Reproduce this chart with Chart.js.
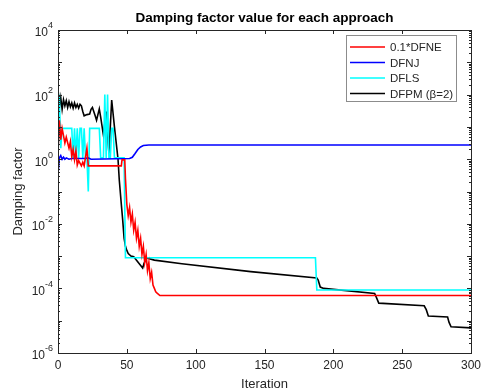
<!DOCTYPE html>
<html>
<head>
<meta charset="utf-8">
<script src="https://cdn.jsdelivr.net/npm/chart.js@4.4.0/dist/chart.umd.min.js"></script>
<style>
  body { margin: 0; background: #fff; }
  #wrap { width: 487px; height: 391px; }
</style>
</head>
<body>
<div id="wrap"><canvas id="damping_chart" width="487" height="391"></canvas></div>
<script>
// breakpoints (iteration, damping factor) of each trace
const dfneIter = [0, 1, 2, 3, 5, 6, 8, 9, 10, 11, 12, 13, 14, 15, 17, 18, 19, 21, 22, 46, 46.5, 48.5, 49,
    50, 51, 52, 53, 54, 55, 56, 57, 58, 59, 60, 61, 62, 63, 64, 65, 66, 67, 68, 69, 70, 71, 72, 74, 300];
const dfneVal = [1.5, 16, 4, 9, 3.2, 4.8, 2.2, 3.5, 1.2, 2, 0.96, 1.8, 0.66, 0.9, 0.62, 0.8, 0.62, 2.2, 0.62, 0.62, 0.95, 0.95, 0.25,
    0.04, 0.0178, 0.0316, 0.0112, 0.02, 0.0063, 0.0112, 0.00355, 0.0063, 0.002, 0.00355, 0.00112, 0.002, 0.00063,
    0.00112, 0.000355, 0.00063, 0.0002, 0.000316, 0.000126, 0.0001, 0.000079, 0.000071, 0.00006, 0.00006];

const dfnjIter = [0, 1, 2, 3, 4, 5, 6, 8, 10, 20, 22, 24, 52, 54, 56, 58, 60, 62, 66, 300];
const dfnjVal = [0.35, 1.1, 1.3, 1.0, 1.15, 1.0, 1.1, 1.0, 1.05, 1.05, 1.1, 1.0, 1.05, 1.15, 1.5, 2.0, 2.4, 2.65, 2.75, 2.75];

const dflsIter = [0, 1, 2, 3, 10, 11, 12, 13, 14, 15, 16, 17, 18, 19, 20, 21, 22, 23, 30, 31, 33, 34, 35, 36, 37, 38, 39, 40, 41, 48, 49, 187, 188, 300];
const dflsVal = [60, 80, 2.2, 9, 9, 1.1, 9, 1.1, 9, 1.1, 9, 9, 1.1, 9, 1.1, 1.1, 0.1, 9, 9, 1.1, 1.1, 100, 1.1, 100, 1.1, 1.1, 9, 9, 1.1, 1.1,
    0.00089, 0.00089, 0.000089, 0.000089];

const dfpmIter = [0, 1, 2, 3, 4, 5, 6, 7, 8, 9, 10, 11, 12, 13, 14, 15, 16, 17, 18, 19, 21, 23, 24, 25, 27, 28, 30, 31, 33, 35, 36, 37, 39, 41,
    43.6, 44.5, 46, 47, 48, 49, 50, 51, 53, 55, 61.5, 62.5, 64.4, 70, 90, 140, 188, 189, 190.5, 193, 230, 231.5, 233, 266, 267.5, 269,
    283, 284, 285.5, 300];
const dfpmVal = [150, 40, 80, 35, 70, 45, 65, 40, 60, 42, 55, 38, 55, 40, 50, 38, 50, 45, 30, 22, 24, 25, 35, 40, 22, 16, 36, 20, 5.5, 30, 6, 1.5, 68, 10,
    1, 0.23, 0.04, 0.013, 0.0036, 0.002, 0.0015, 0.0012, 0.001, 0.00095, 0.00043, 0.0006, 0.00087, 0.00075, 0.00058, 0.00033, 0.00021, 0.00018,
    0.00011, 0.0001, 0.00007, 0.00005, 0.000035, 0.000029, 0.000022, 0.000014, 0.000013, 0.000009, 0.0000065, 0.000006];

const seriesNames = ['0.1*DFNE', 'DFNJ', 'DFLS', 'DFPM (\u03b2=2)'];
const seriesColors = ['#ff0000', '#0000ff', '#00ffff', '#000000'];
const xTicks = [0, 50, 100, 150, 200, 250, 300];
const yLabelExps = [4, 2, 0, -2, -4, -6];

const FONT = '"Liberation Sans", Arial, sans-serif';
const INK = '#262626';

function toPoints(iters, vals) {
    return iters.map((it, i) => ({x: it, y: vals[i]}));
}

const traces = [
    toPoints(dfneIter, dfneVal),
    toPoints(dfnjIter, dfnjVal),
    toPoints(dflsIter, dflsVal),
    toPoints(dfpmIter, dfpmVal)
];

// box, inward ticks, labels and legend in the MATLAB look
const matlabAxes = {
    id: 'matlabAxes',
    afterDraw(chart) {
        const ctx = chart.ctx;
        const a = chart.chartArea;
        const xs = chart.scales.x, ys = chart.scales.y;
        ctx.save();
        ctx.strokeStyle = INK;
        ctx.lineWidth = 1;

        // ticks on all four sides
        ctx.beginPath();
        for (let e = -6; e <= 4; e++) {
            for (let m = 1; m <= 9; m++) {
                const v = m * Math.pow(10, e);
                if (v > 1e4) break;
                const py = Math.round(ys.getPixelForValue(v)) + 0.5;
                const len = m == 1 ? 4 : 2;
                ctx.moveTo(a.left, py); ctx.lineTo(a.left + len, py);
                ctx.moveTo(a.right, py); ctx.lineTo(a.right - len, py);
            }
        }
        xTicks.forEach(t => {
            const px = Math.round(xs.getPixelForValue(t)) + 0.5;
            ctx.moveTo(px, a.bottom); ctx.lineTo(px, a.bottom - 4);
            ctx.moveTo(px, a.top); ctx.lineTo(px, a.top + 4);
        });
        ctx.stroke();
        ctx.strokeRect(Math.round(a.left) + 0.5, Math.round(a.top) + 0.5,
            Math.round(a.right - a.left), Math.round(a.bottom - a.top));

        // x tick labels
        ctx.fillStyle = INK;
        ctx.font = '12px ' + FONT;
        ctx.textAlign = 'center';
        ctx.textBaseline = 'middle';
        xTicks.forEach(t => ctx.fillText(String(t), xs.getPixelForValue(t), a.bottom + 13));

        // y tick labels: 10 with a raised exponent
        yLabelExps.forEach(e => {
            const py = ys.getPixelForValue(Math.pow(10, e));
            const exp = String(e);
            ctx.font = '9px ' + FONT;
            const ew = ctx.measureText(exp).width;
            const right = a.left - 5;
            ctx.textAlign = 'left';
            ctx.fillText(exp, right - ew, py - 4);
            ctx.font = '12px ' + FONT;
            ctx.textAlign = 'right';
            ctx.fillText('10', right - ew, py + 3);
        });

        // axis titles
        ctx.font = '13px ' + FONT;
        ctx.textAlign = 'center';
        ctx.fillText('Iteration', (a.left + a.right) / 2, 384);
        ctx.save();
        ctx.translate(18, (a.top + a.bottom) / 2);
        ctx.rotate(-Math.PI / 2);
        ctx.fillText('Damping factor', 0, 0);
        ctx.restore();

        // plot title
        ctx.font = 'bold 13.5px ' + FONT;
        ctx.fillStyle = '#000';
        ctx.fillText('Damping factor value for each approach', (a.left + a.right) / 2, 18);

        // legend
        const lx = 346.5, ly = 35.5, lw = 110, lh = 66;
        ctx.fillStyle = '#fff';
        ctx.fillRect(lx, ly, lw, lh);
        ctx.strokeStyle = '#8c8c8c';
        ctx.strokeRect(lx, ly, lw, lh);
        ctx.font = '11.5px ' + FONT;
        ctx.textAlign = 'left';
        seriesNames.forEach((name, i) => {
            const ry = 47 + i * 15.5;
            ctx.strokeStyle = seriesColors[i];
            ctx.lineWidth = 1.5;
            ctx.beginPath();
            ctx.moveTo(350, ry); ctx.lineTo(385, ry);
            ctx.stroke();
            ctx.fillStyle = INK;
            ctx.fillText(name, 390, ry + 1);
        });
        ctx.restore();
    }
};

const ctx = document.getElementById('damping_chart');
window.damping_chart = new Chart(ctx, {
    type: 'line',
    data: {
        datasets: traces.map((pts, i) => ({
            label: seriesNames[i],
            data: pts,
            borderColor: seriesColors[i],
            borderWidth: 1.6,
            fill: false,
            tension: 0
        }))
    },
    options: {
        responsive: false,
        animation: false,
        layout: { padding: { left: 58, top: 30, right: 16, bottom: 38 } },
        elements: { point: { radius: 0 } },
        plugins: { legend: { display: false }, title: { display: false }, tooltip: { enabled: false } },
        scales: {
            x: { type: 'linear', min: 0, max: 300, display: false },
            y: { type: 'logarithmic', min: 1e-6, max: 1e4, display: false }
        }
    },
    plugins: [matlabAxes]
});
</script>
</body>
</html>
